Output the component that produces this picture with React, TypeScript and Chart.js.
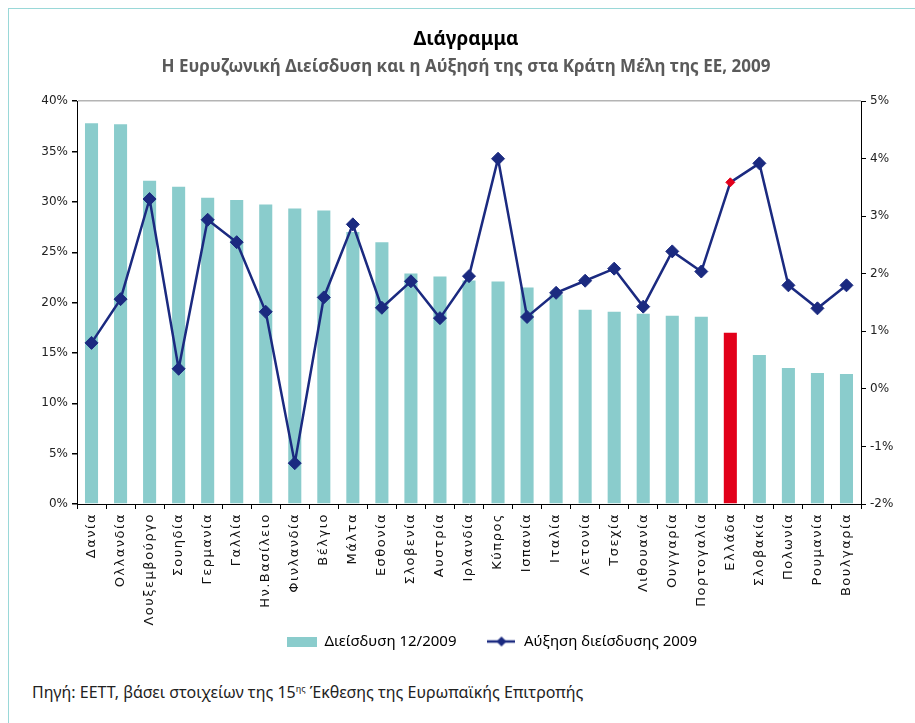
import React, { useEffect, useRef } from 'react';
import { Chart, registerables } from 'chart.js';

Chart.register(...registerables);

const categories = [
  'Δανία', 'Ολλανδία', 'Λουξεμβούργο', 'Σουηδία', 'Γερμανία', 'Γαλλία', 'Ην.Βασίλειο',
  'Φινλανδία', 'Βέλγιο', 'Μάλτα', 'Εσθονία', 'Σλοβενία', 'Αυστρία', 'Ιρλανδία', 'Κύπρος',
  'Ισπανία', 'Ιταλία', 'Λετονία', 'Τσεχία', 'Λιθουανία', 'Ουγγαρία', 'Πορτογαλία', 'Ελλάδα',
  'Σλοβακία', 'Πολωνία', 'Ρουμανία', 'Βουλγαρία',
];

// Διείσδυση 12/2009 (%), left axis
const penetration = [
  37.8, 37.7, 32.1, 31.5, 30.4, 30.2, 29.75, 29.35, 29.15, 27.0, 26.0, 22.9, 22.6, 22.2,
  22.1, 21.5, 20.8, 19.3, 19.1, 18.9, 18.7, 18.6, 17.0, 14.8, 13.5, 13.0, 12.9,
];

// Αύξηση διείσδυσης 2009 (%), right axis
const growth = [
  0.80, 1.56, 3.30, 0.35, 2.94, 2.55, 1.34, -1.29, 1.59, 2.86, 1.41, 1.87, 1.23, 1.96,
  4.00, 1.25, 1.67, 1.88, 2.09, 1.43, 2.39, 2.04, 3.59, 3.92, 1.80, 1.40, 1.80,
];

const leftTicks = [0, 5, 10, 15, 20, 25, 30, 35, 40];
const rightTicks = [-2, -1, 0, 1, 2, 3, 4, 5];
const highlighted = 'Ελλάδα';

const titleText = 'Διάγραμμα';
const subtitleText = 'Η Ευρυζωνική Διείσδυση και η Αύξησή της στα Κράτη Μέλη της ΕΕ, 2009';
const barLabel = 'Διείσδυση 12/2009';
const lineLabel = 'Αύξηση διείσδυσης 2009';

const TEAL = '#8ACCCC';
const RED = '#E2001A';
const NAVY = '#1B2A80';

function makeBarSwatch(): HTMLCanvasElement {
  const c = document.createElement('canvas');
  c.width = 30;
  c.height = 10;
  const g = c.getContext('2d')!;
  g.fillStyle = TEAL;
  g.fillRect(0, 0, 30, 10);
  return c;
}

function makeLineSwatch(): HTMLCanvasElement {
  const c = document.createElement('canvas');
  c.width = 28;
  c.height = 12;
  const g = c.getContext('2d')!;
  g.strokeStyle = NAVY;
  g.lineWidth = 2.5;
  g.beginPath();
  g.moveTo(0, 6);
  g.lineTo(28, 6);
  g.stroke();
  g.fillStyle = NAVY;
  g.beginPath();
  g.moveTo(14, 1);
  g.lineTo(19, 6);
  g.lineTo(14, 11);
  g.lineTo(9, 6);
  g.closePath();
  g.fill();
  return c;
}

export default function App() {
  const canvasRef = useRef<HTMLCanvasElement | null>(null);

  useEffect(() => {
    if (!canvasRef.current) return;
    const barSwatch = makeBarSwatch();
    const lineSwatch = makeLineSwatch();

    const tickFont = { family: '"DejaVu Sans", sans-serif', size: 12 };

    const tweaks = {
      id: 'tweaks',
      afterLayout(chart: any) {
        if (chart.legend) {
          chart.legend.left += 26;
          chart.legend.right += 26;
        }
      },
      beforeDraw(chart: any) {
        const xs = chart.scales && chart.scales.x;
        if (xs && !xs.__spaced) {
          const orig = xs.drawLabels;
          xs._computeLabelArea = () => undefined;
          xs.drawLabels = function (area: any) {
            const c = this.ctx;
            c.save();
            try {
              (c as any).letterSpacing = '1.5px';
            } catch (e) {
              /* ignore */
            }
            orig.call(this, area);
            c.restore();
          };
          xs.__spaced = true;
        }
      },
    };

    const chart = new Chart(canvasRef.current, {
      type: 'bar',
      data: {
        labels: categories,
        datasets: [
          {
            type: 'line',
            label: lineLabel,
            data: growth,
            yAxisID: 'y1',
            borderColor: NAVY,
            borderWidth: 2.5,
            pointStyle: 'rectRot',
            pointRadius: categories.map((c) => (c === highlighted ? 4.5 : 6.5)),
            pointBackgroundColor: categories.map((c) => (c === highlighted ? RED : NAVY)),
            pointBorderColor: categories.map((c) => (c === highlighted ? RED : NAVY)),
            pointBorderWidth: 1,
            tension: 0,
            order: 0,
          } as any,
          {
            type: 'bar',
            label: barLabel,
            data: penetration,
            yAxisID: 'y',
            backgroundColor: categories.map((c) => (c === highlighted ? RED : TEAL)),
            borderWidth: 0,
            barPercentage: 0.45,
            categoryPercentage: 1,
            order: 1,
          },
        ],
      },
      options: {
        animation: false,
        responsive: false,
        maintainAspectRatio: false,
        devicePixelRatio: 1,
        layout: { padding: { left: 17, right: 0, top: 0, bottom: 6 } },
        plugins: {
          title: {
            display: true,
            text: titleText,
            color: '#000',
            font: { family: '"Noto Sans", sans-serif', size: 19, weight: 'bold' },
            padding: { top: 28, bottom: 6 },
          },
          subtitle: {
            display: true,
            text: subtitleText,
            color: '#5a5a5a',
            font: { family: '"Noto Sans", sans-serif', size: 17, weight: 'bold' },
            padding: { top: 0, bottom: 24 },
          },
          legend: {
            display: true,
            position: 'bottom',
            labels: {
              usePointStyle: true,
              pointStyleWidth: 30,
              boxHeight: 12,
              padding: 30,
              color: '#111',
              font: { family: '"Noto Sans", sans-serif', size: 15 },
              generateLabels: () => [
                {
                  text: barLabel,
                  pointStyle: barSwatch,
                  fillStyle: TEAL,
                  strokeStyle: TEAL,
                  lineWidth: 0,
                  hidden: false,
                  datasetIndex: 1,
                } as any,
                {
                  text: lineLabel,
                  pointStyle: lineSwatch,
                  fillStyle: NAVY,
                  strokeStyle: NAVY,
                  lineWidth: 0,
                  hidden: false,
                  datasetIndex: 0,
                } as any,
              ],
            },
          },
          tooltip: { enabled: false },
        },
        scales: {
          x: {
            offset: true,
            grid: {
              display: true,
              drawOnChartArea: false,
              drawTicks: true,
              tickLength: 5,
              tickColor: '#000',
              offset: true,
            },
            border: { display: true, color: '#000', width: 1 },
            ticks: {
              autoSkip: false,
              minRotation: 90,
              maxRotation: 90,
              padding: 4,
              color: '#111',
              font: { family: '"DejaVu Sans", sans-serif', size: 13 },
            },
            afterFit: (s: any) => {
              s.height = 100;
            },
          },
          y: {
            position: 'left',
            min: 0,
            max: 40,
            afterBuildTicks: (s: any) => {
              s.ticks = leftTicks.map((v) => ({ value: v }));
            },
            grid: {
              drawOnChartArea: true,
              drawTicks: true,
              tickLength: 5,
              tickColor: '#000',
              color: (ctx: any) => (ctx.tick && ctx.tick.value === 40 ? '#b4b4b4' : 'rgba(0,0,0,0)'),
              lineWidth: 1.5,
            },
            border: { display: true, color: '#000', width: 1 },
            ticks: {
              padding: 4,
              color: '#222',
              font: tickFont,
              callback: (v: any) => `${v}%`,
            },
            afterFit: (s: any) => {
              s.width = 60;
            },
          },
          y1: {
            position: 'right',
            min: -2,
            max: 5,
            afterBuildTicks: (s: any) => {
              s.ticks = rightTicks.map((v) => ({ value: v }));
            },
            grid: {
              drawOnChartArea: false,
              drawTicks: true,
              tickLength: 5,
              tickColor: '#000',
            },
            border: { display: true, color: '#000', width: 1 },
            ticks: {
              padding: 4,
              color: '#222',
              font: tickFont,
              callback: (v: any) => `${v}%`,
            },
            afterFit: (s: any) => {
              s.width = 54;
            },
          },
        },
      },
      plugins: [tweaks],
    } as any);

    return () => {
      chart.destroy();
    };
  }, []);

  return (
    <div
      style={{
        position: 'absolute',
        left: 0,
        top: 0,
        width: 915,
        height: 723,
        background: '#fff',
        overflow: 'hidden',
      }}
    >
      <div
        style={{
          position: 'absolute',
          left: 8,
          top: 8,
          right: 0,
          bottom: 0,
          borderTop: '1px solid #9AD8D8',
          borderLeft: '1px solid #9AD8D8',
        }}
      />
      <div style={{ position: 'absolute', left: 0, top: 0, width: 915, height: 665 }}>
        <canvas ref={canvasRef} width={915} height={665} style={{ width: 915, height: 665 }} />
      </div>
      <div
        style={{
          position: 'absolute',
          left: 32,
          top: 681,
          fontFamily: '"Noto Sans", sans-serif',
          fontSize: 16,
          color: '#222',
          whiteSpace: 'nowrap',
        }}
      >
        Πηγή: ΕΕΤΤ, βάσει στοιχείων της 15
        <sup style={{ fontSize: 9 }}>ης</sup> Έκθεσης της Ευρωπαϊκής Επιτροπής
      </div>
    </div>
  );
}
